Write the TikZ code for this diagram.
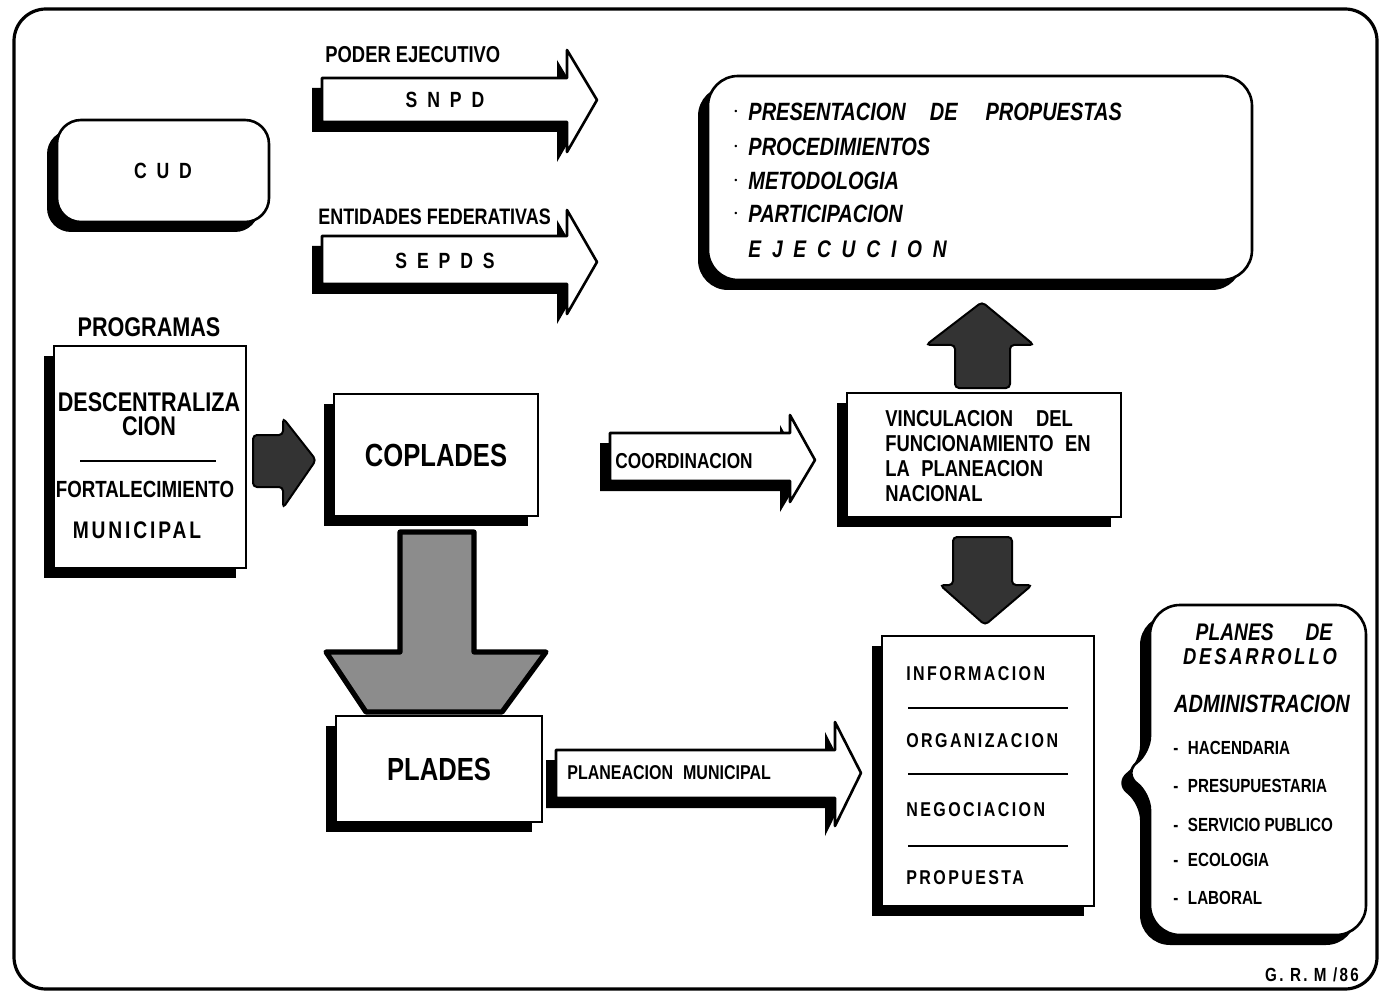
\documentclass[tikz,border=0pt]{standalone}
\usepackage{fontspec}
\setmainfont{Liberation Sans}[FakeStretch=0.8]
\newfontfamily\wide{Liberation Sans}[FakeStretch=0.8, LetterSpace=45]
\newfontfamily\loose{Liberation Sans}[FakeStretch=0.8, LetterSpace=12]
\usetikzlibrary{shadows}
\usetikzlibrary{positioning}
\usetikzlibrary{calc}

\tikzset{
  shbox/.style={draw=black, line width=1.3pt, fill=white,
    drop shadow={shadow xshift=-5pt, shadow yshift=-5pt, opacity=1, fill=black}},
  blockarrow/.style={shbox, line join=round},
  darkarrow/.style={fill=black!80, draw=black, line width=1pt, rounded corners=2pt},
  lbl/.style={inner sep=0pt}
}

\begin{document}
\begin{tikzpicture}[x=0.5pt, y=-0.5pt, lbl/.append style={font=\bfseries}]
  \useasboundingbox (0,0) rectangle (1380,994);
  % Outer frame
  \draw[line width=1.6pt, rounded corners=16pt] (14,9) rectangle (1377,989);

  % Big grey arrow from COPLADES down to PLADES
  \draw[fill=black!45, line width=2.6pt, line join=round] (400,532) -- (474,532) -- (474,652) -- (546,652)
    -- (502,712) -- (366,712) -- (326,652) -- (400,652) -- cycle;

  % Boxes
  \node[shbox, rounded corners=12pt, minimum width=106pt, minimum height=51pt,
    font=\fontsize{11}{13}\selectfont\wide\bfseries] (cud) at (163,171) {CUD};
  \node[shbox, rounded corners=15pt, minimum width=272pt, minimum height=102pt] (tasks) at (980,178) {};
  \node[shbox, minimum width=96pt, minimum height=111pt] (prog) at (150,457) {};
  \node[shbox, minimum width=102pt, minimum height=61pt,
    font=\fontsize{16}{18}\selectfont\bfseries] (copl) at (436,455) {COPLADES};
  \node[shbox, minimum width=103pt, minimum height=53pt,
    font=\fontsize{16}{18}\selectfont\bfseries] (plad) at (439,769) {PLADES};
  \node[shbox, minimum width=137pt, minimum height=62pt] (vinc) at (984,455) {};
  \node[shbox, minimum width=106pt, minimum height=135pt] (info) at (988,771) {};
  \path[shbox] (1150,752) [rounded corners=15pt] -- (1150,605) -- (1366,605) -- (1366,935) -- (1150,935)
    [rounded corners=8pt] -- (1150,794) -- (1124,773) -- cycle;

  % Block arrows
  \draw[blockarrow] (322,78) -- (567,78) -- (567,50) -- (597,100) -- (567,152) -- (567,122) -- (322,122) -- cycle;
  \draw[blockarrow] (322,236) -- (567,236) -- (567,210) -- (597,262) -- (567,314) -- (567,284) -- (322,284) -- cycle;
  \draw[blockarrow] (610,433) -- (790,433) -- (790,415) -- (815,460) -- (790,502) -- (790,481) -- (610,481) -- cycle;
  \draw[blockarrow] (556,750) -- (835,750) -- (835,722) -- (861,773) -- (835,826) -- (835,798) -- (556,798) -- cycle;

  % Dark arrows
  \draw[darkarrow] (253,435) -- (283,435) -- (283,418) -- (316,460) -- (283,508) -- (283,487) -- (253,487) -- cycle;
  \draw[darkarrow] (955,388) -- (1010,388) -- (1010,345) -- (1034,345) -- (982,302) -- (926,345) -- (955,345) -- cycle;
  \draw[darkarrow] (953,537) -- (1012,537) -- (1012,585) -- (1032,585) -- (985,625) -- (940,585) -- (953,585) -- cycle;

  % Arrow labels
  \node[lbl, anchor=west, font=\fontsize{11.5}{13}\selectfont\bfseries] (poder) at (325,55) {PODER EJECUTIVO};
  \node[lbl, font=\fontsize{11}{13}\selectfont\wide\bfseries] (snpd) at (445,100) {SNPD};
  \node[lbl, anchor=west, font=\fontsize{11.2}{13}\selectfont\bfseries] (entid) at (318,217) {ENTIDADES FEDERATIVAS};
  \node[lbl, font=\fontsize{11}{13}\selectfont\wide\bfseries] (sepds) at (445,261) {SEPDS};
  \node[lbl, anchor=west, font=\fontsize{10.8}{12}\selectfont\bfseries] (coord) at (615,461) {COORDINACION};
  \node[lbl, anchor=west, font=\fontsize{10}{12}\selectfont\bfseries] (planm) at (567,773) {PLANEACION\enspace MUNICIPAL};

  % Tasks list
  \foreach \t/\y [count=\i] in {PRESENTACION\hspace{12pt}DE\hspace{14pt}PROPUESTAS/112, PROCEDIMIENTOS/147,
      METODOLOGIA/181, PARTICIPACION/214}
  {
    \node[lbl, anchor=west, font=\fontsize{12.5}{14}\selectfont\bfseries\itshape] (task\i) at (748,\y) {\t};
    \node[lbl, font=\fontsize{12}{14}\selectfont\bfseries] (dot\i) at (736,\y) {$\cdot$};
  }
  \node[lbl, anchor=west, font=\fontsize{12}{14}\selectfont\wide\bfseries\itshape] (ejec) at (748,249) {EJECUCION};

  % Programas
  \node[lbl, font=\fontsize{13.5}{15}\selectfont\bfseries] (progt) at (149,327) {PROGRAMAS};
  \node[lbl, font=\fontsize{13.5}{12}\selectfont\bfseries, align=center] (desc) at (149,414) {DESCENTRALIZA\\CION};
  \draw[line width=1.4pt] (80,461) -- (216,461);
  \node[lbl, font=\fontsize{11.7}{13}\selectfont\bfseries] (fort) at (145,489) {FORTALECIMIENTO};
  \node[lbl, font=\fontsize{12}{13}\selectfont\loose\bfseries] (munic) at (137,530) {MUNICIPAL};

  % Vinculacion
  \node[lbl, anchor=west, align=left, font=\fontsize{11.5}{12.6}\selectfont\bfseries] (vinct) at (885,456)
    {VINCULACION\quad DEL\\FUNCIONAMIENTO\enspace EN\\LA\enspace PLANEACION\\NACIONAL};

  % Steps box
  \foreach \t/\y [count=\i] in {INFORMACION/674, ORGANIZACION/741, NEGOCIACION/810, PROPUESTA/878}
    \node[lbl, anchor=west, font=\fontsize{10}{12}\selectfont\loose\bfseries] (step\i) at (906,\y) {\t};
  \foreach \y in {708, 774, 846}
    \draw[line width=1.4pt] (908,\y) -- (1068,\y);

  % Planes de desarrollo
  \node[lbl, font=\fontsize{12}{13}\selectfont\bfseries\itshape] (planes) at (1264,632) {PLANES\hspace{16pt}DE};
  \node[lbl, font=\fontsize{11.5}{13}\selectfont\loose\bfseries\itshape] (desar) at (1260,657) {DESARROLLO};
  \node[lbl, font=\fontsize{12.5}{13}\selectfont\bfseries\itshape] (admin) at (1262,704) {ADMINISTRACION};
  \foreach \t/\y [count=\i] in {HACENDARIA/748, PRESUPUESTARIA/786, SERVICIO PUBLICO/825, ECOLOGIA/860, LABORAL/898}
    \node[lbl, anchor=west, font=\fontsize{9.5}{11}\selectfont\bfseries] (adm\i) at (1173,\y) {-\enspace\t};

  \node[lbl, font=\fontsize{9.5}{11}\selectfont\loose\bfseries] (firma) at (1312,975) {G. R. M /86};
\end{tikzpicture}
\end{document}
